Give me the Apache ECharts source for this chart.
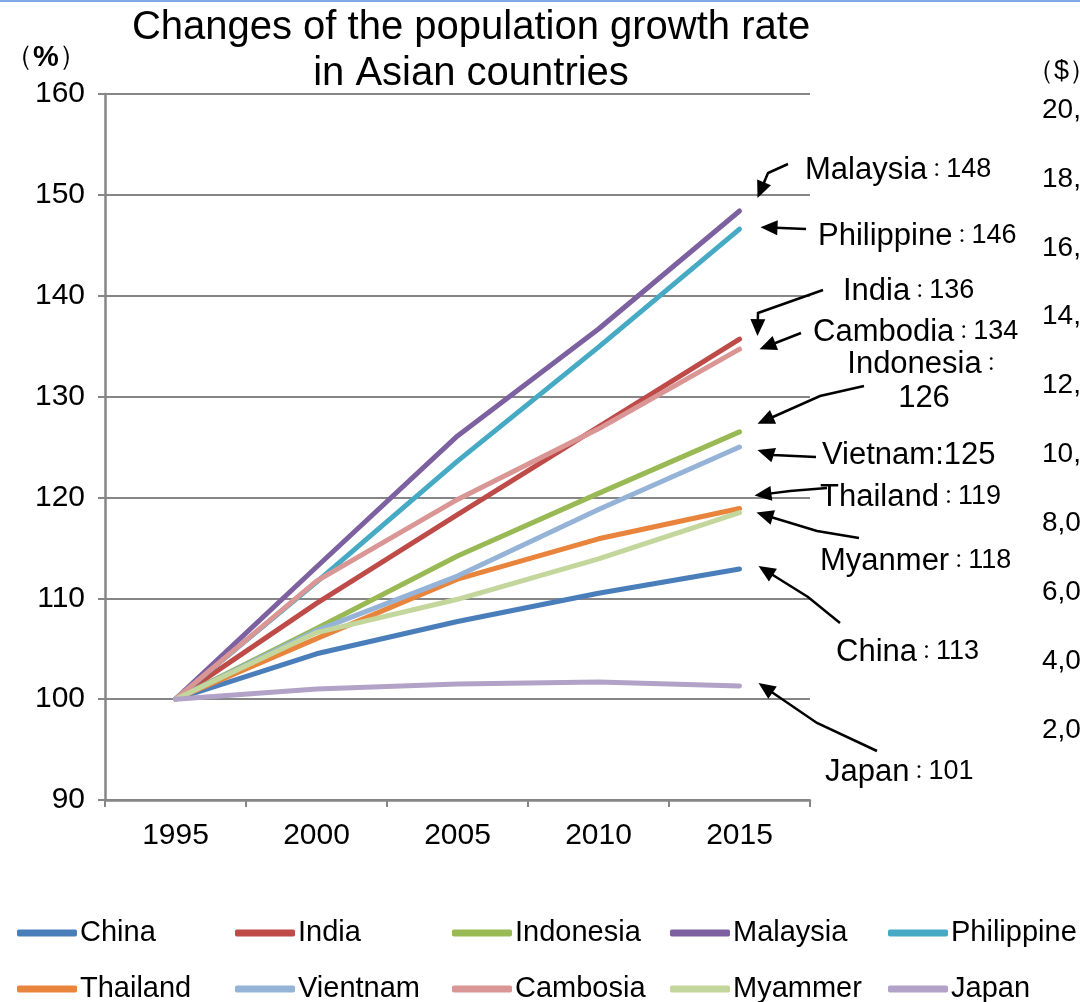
<!DOCTYPE html>
<html><head><meta charset="utf-8">
<script src="https://cdn.jsdelivr.net/npm/echarts@6/dist/echarts.min.js"></script>
<style>html,body{margin:0;padding:0;background:#fff}#c{width:1080px;height:1002px}</style>
</head><body><div id="c"></div>
<script>
// ---- data ----
const years = ['1995','2000','2005','2010','2015'];
const seriesNames = ['China','India','Indonesia','Malaysia','Philippine','Thailand','Vientnam','Cambosia','Myammer','Japan'];
const china      = [100, 104.5, 107.7, 110.5, 112.9];
const india      = [100, 109.5, 118.3, 127.0, 135.7];
const indonesia  = [100, 107.0, 114.2, 120.4, 126.5];
const malaysia   = [100, 113.1, 126.1, 136.7, 148.4];
const philippine = [100, 111.6, 123.6, 134.9, 146.6];
const thailand   = [100, 106.0, 111.9, 115.9, 118.9];
const vietnam    = [100, 106.8, 112.2, 118.8, 125.0];
const cambodia   = [100, 111.7, 119.8, 126.8, 134.7];
const myanmar    = [100, 106.6, 109.9, 113.9, 118.5];
const japan      = [100, 101.0, 101.5, 101.7, 101.3];
const seriesValues = [china, india, indonesia, malaysia, philippine, thailand, vietnam, cambodia, myanmar, japan];
const leftAxis = {min: 90, max: 160, interval: 10};
const rightAxis = {min: 0, max: 20000, interval: 2000};
// callout labels: [label name, shown value, series index]
const callouts = [
  ['Malaysia', '148', 3],
  ['Philippine', '146', 4],
  ['India', '136', 1],
  ['Cambodia', '134', 7],
  ['Indonesia', '126', 2],
  ['Vietnam', '125', 6],
  ['Thailand', '119', 5],
  ['Myanmer', '118', 8],
  ['China', '113', 0],
  ['Japan', '101', 9]
];
// ---- styles / layout ----
const colors = ['#4A7EBB','#BE4B48','#98B954','#7D60A0','#46AAC5','#E8843C','#95B3D7','#D99694','#C3D69B','#B3A2C7'];
const FONT = '"Liberation Sans", Arial, sans-serif';
const calloutLayout = [
  {tx: 805, ty: 170, path: [[788,164],[768,173]], tip: [18,-13]},
  {tx: 818, ty: 236, path: [[806,229]], tip: [21,-2]},
  {tx: 843, ty: 291, path: [[823,290],[758,313]], tip: [18,-3]},
  {tx: 813, ty: 332, path: [[801,333]], tip: [20,0]},
  {tx: 924, ty: 381, two: true, path: [[864,386],[820,396]], tip: [18,-8]},
  {tx: 822, ty: 455, plain: true, path: [[816,457],[773,455]], tip: [18,3]},
  {tx: 820, ty: 497, path: [[827,488],[790,491]], tip: [15,-13]},
  {tx: 820, ty: 561, path: [[859,538],[817,531]], tip: [17,0]},
  {tx: 836, ty: 652, path: [[840,623],[808,597]], tip: [19,-3]},
  {tx: 825, ty: 772, path: [[877,751],[817,723]], tip: [19,-3]}
];

const chart = echarts.init(document.getElementById('c'), null, {renderer: 'canvas'});

const legends = [];
const colX = [17, 235, 452, 670, 888];
const rowTop = [918, 974];
for (let i = 0; i < 10; i++) {
  legends.push({
    orient: 'horizontal', left: colX[i % 5], top: rowTop[Math.floor(i / 5)],
    itemWidth: 60, itemHeight: 7, itemGap: 0, padding: 0,
    icon: 'roundRect',
    textStyle: {fontFamily: FONT, fontSize: 29, color: '#000', lineHeight: 30, height: 30, padding: [0,0,0,-2]},
    data: [seriesNames[i]]
  });
}

const option = {
  animation: false,
  backgroundColor: '#fff',
  color: colors,
  title: [
    {text: 'Changes of the population growth rate\nin Asian countries', left: 466, top: 0, textAlign: 'center',
     textStyle: {fontFamily: FONT, fontSize: 40, fontWeight: 'normal', color: '#000', lineHeight: 46}},
    {text: '（{b|%}）', left: 0, top: 38,
     textStyle: {fontFamily: FONT, fontSize: 28, fontWeight: 'normal', color: '#000',
       rich: {b: {fontFamily: FONT, fontSize: 29, fontWeight: 'bold', color: '#000'}}}},
    {text: '（$）', left: 1022, top: 53,
     textStyle: {fontFamily: FONT, fontSize: 27, fontWeight: 'normal', color: '#000'}}
  ],
  legend: legends,
  grid: [
    {left: 105, right: 270, top: 94, bottom: 202},
    {left: 1042, width: 200, top: 110, bottom: 203}
  ],
  xAxis: [
    {type: 'category', data: years, gridIndex: 0, boundaryGap: true,
     axisLine: {lineStyle: {color: '#868686', width: 2.5}},
     axisTick: {show: true, alignWithLabel: false, length: 7, lineStyle: {color: '#868686', width: 2}},
     axisLabel: {fontFamily: FONT, fontSize: 30, color: '#000', margin: 21}},
    {type: 'value', gridIndex: 1, show: false, min: 0, max: 1}
  ],
  yAxis: [
    {type: 'value', gridIndex: 0, min: leftAxis.min, max: leftAxis.max, interval: leftAxis.interval,
     axisLine: {show: true, lineStyle: {color: '#868686', width: 2.5}},
     axisTick: {show: true, length: 7, lineStyle: {color: '#868686', width: 2}},
     axisLabel: {fontFamily: FONT, fontSize: 30, color: '#000', margin: 20},
     splitLine: {show: true, lineStyle: {color: '#868686', width: 2}}},
    {type: 'value', gridIndex: 1, min: rightAxis.min, max: rightAxis.max, interval: rightAxis.interval,
     axisLine: {show: false}, axisTick: {show: false}, splitLine: {show: false},
     axisLabel: {inside: true, align: 'left', margin: 0, fontFamily: FONT, fontSize: 28, color: '#000',
       formatter: v => v === 0 ? '' : v.toLocaleString('en-US')}}
  ],
  series: seriesNames.map((n, i) => ({
    name: n, type: 'line', data: seriesValues[i], xAxisIndex: 0, yAxisIndex: 0,
    symbol: 'none', lineStyle: {width: 5, color: colors[i], cap: 'round'},
    itemStyle: {color: colors[i]}
  }))
};
chart.setOption(option);

// ---- callouts anchored at the 2015 end points ----
const graphics = [{type: 'rect', shape: {x: 0, y: 0, width: 1080, height: 2}, style: {fill: '#7FA8E8'}, silent: true}];
callouts.forEach((c, k) => {
  const L = calloutLayout[k];
  const vals = seriesValues[c[2]];
  const end = chart.convertToPixel({xAxisIndex: 0, yAxisIndex: 0}, [years.length - 1, vals[vals.length - 1]]);
  const tip = [end[0] + L.tip[0], end[1] + L.tip[1]];
  const pts = L.path.slice();
  const prev = pts[pts.length - 1];
  let dx = tip[0] - prev[0], dy = tip[1] - prev[1];
  const len = Math.hypot(dx, dy); dx /= len; dy /= len;
  const hl = 17, hw = 7.5;
  const base = [tip[0] - dx * hl, tip[1] - dy * hl];
  pts.push([base[0] + dx * 2, base[1] + dy * 2]);
  graphics.push({type: 'polyline', shape: {points: pts}, style: {stroke: '#000', lineWidth: 2.5, fill: null}, silent: true});
  graphics.push({type: 'polygon', shape: {points: [tip, [base[0] - dy * hw, base[1] + dx * hw], [base[0] + dy * hw, base[1] - dx * hw]]},
    style: {fill: '#000'}, silent: true});
  let text;
  const rich = {
    n: {fontFamily: FONT, fontSize: 31, fill: '#000'},
    c: {fontFamily: '"Noto Sans CJK JP", sans-serif', fontSize: 19, fill: '#000'},
    v: {fontFamily: FONT, fontSize: 27, fill: '#000'}
  };
  if (L.two) {
    text = '{n|' + c[0] + '}{c|：}\n{n|' + c[1] + '}';
  } else if (L.plain) {
    text = '{n|' + c[0] + ':' + c[1] + '}';
  } else {
    text = '{n|' + c[0] + '}{c|：}{v|' + c[1] + '}';
  }
  graphics.push({type: 'text', x: L.tx, y: L.ty, silent: true,
    style: {text: text, rich: rich, align: L.two ? 'center' : 'left', verticalAlign: 'middle', lineHeight: 34, fill: '#000'}});
});
chart.setOption({graphic: graphics});
</script>
</body></html>
